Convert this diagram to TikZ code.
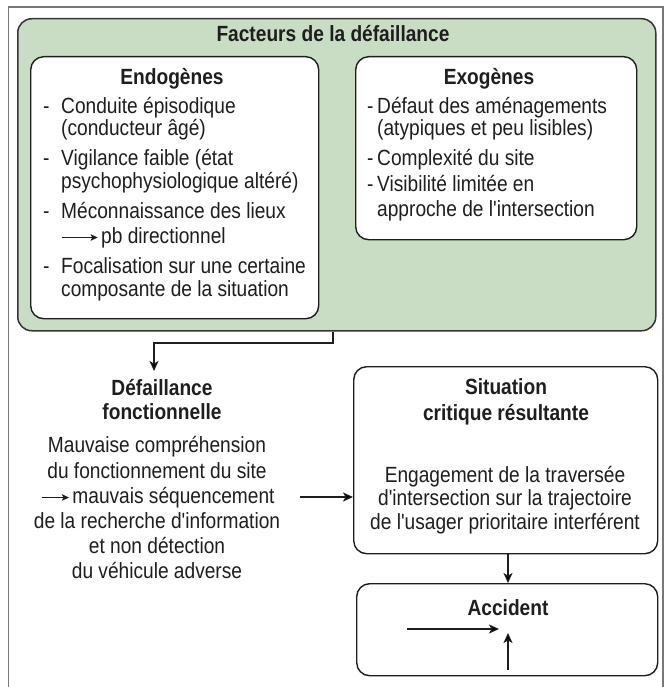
\documentclass[tikz,border=0pt]{standalone}
\usepackage{fontspec}
\setmainfont{Liberation Sans}[Ligatures=TeXOff, FakeStretch=0.87]
\usetikzlibrary{arrows.meta}
\definecolor{greenbg}{RGB}{201,221,196}
\definecolor{framegray}{RGB}{120,120,120}
\definecolor{ink}{RGB}{30,30,30}
\newcommand{\inarrow}[1]{\tikz[baseline=0pt]\draw[ink,line width=1pt,-{Stealth[length=7pt,width=6.5pt,inset=1.5pt]}] (0pt,5.5pt) -- (#1,5.5pt);}
\newcommand{\dashA}{\makebox[18pt][l]{-}}
\newcommand{\dashB}{\makebox[10pt][l]{-}}
\tikzset{
  txt/.style={inner sep=0pt, text=ink, font=\fontsize{22}{24}\selectfont},
  ttl/.style={inner sep=0pt, text=ink, font=\fontsize{22}{24}\selectfont\bfseries},
  greenbox/.style={draw=ink!90, fill=greenbg, line width=1.5pt, rounded corners=14pt, inner sep=0pt},
  whitebox/.style={draw=ink, fill=white, line width=1.4pt, rounded corners=13pt, inner sep=0pt},
  conn/.style={draw=ink, line width=1.1pt, -{Stealth[length=10pt,width=9pt,inset=2.5pt]}},
}
\begin{document}
\begin{tikzpicture}[x=1pt,y=-1pt]
\useasboundingbox (0,0) rectangle (668,687);
% outer frame (open at the bottom)
\draw[framegray, line width=1.2pt] (8.5,687) -- (8.5,7) -- (663,7) -- (663,687);

% green group
\node[greenbox, anchor=north west, minimum width=638pt, minimum height=312pt] (facteurs) at (17,18) {};
\node[ttl, anchor=base] (ftitle) at (333,42) {Facteurs de la défaillance};

% Endogènes
\node[whitebox, anchor=north west, minimum width=288pt, minimum height=262pt] (endo) at (30,56) {};
\node[ttl, anchor=base] (entitle) at (172,85) {Endogènes};
\node[txt, anchor=base west] (e1) at (43,113.5) {\dashA Conduite épisodique};
\node[txt, anchor=base west] (e2) at (61,135.5) {(conducteur âgé)};
\node[txt, anchor=base west] (e3) at (43,165.5) {\dashA Vigilance faible (état};
\node[txt, anchor=base west] (e4) at (61,188.5) {psychophysiologique altéré)};
\node[txt, anchor=base west] (e5) at (43,218.5) {\dashA Méconnaissance des lieux};
\node[txt, anchor=base west] (e6) at (61,243) {\inarrow{36pt}\hspace{3pt}pb directionnel};
\node[txt, anchor=base west] (e7) at (43,273) {\dashA Focalisation sur une certaine};
\node[txt, anchor=base west] (e8) at (61,296) {composante de la situation};

% Exogènes
\node[whitebox, anchor=north west, minimum width=281pt, minimum height=183pt] (exo) at (355,56) {};
\node[ttl, anchor=base] (extitle) at (489,85) {Exogènes};
\node[txt, anchor=base west] (x1) at (367,113.5) {\dashB Défaut des aménagements};
\node[txt, anchor=base west] (x2) at (377,135.5) {(atypiques et peu lisibles)};
\node[txt, anchor=base west] (x3) at (367,166) {\dashB Complexité du site};
\node[txt, anchor=base west] (x4) at (367,191) {\dashB Visibilité limitée en};
\node[txt, anchor=base west] (x5) at (377,216) {approche de l'intersection};

% Défaillance fonctionnelle
\node[ttl, anchor=base] (dtitle1) at (162,395) {Défaillance};
\node[ttl, anchor=base] (dtitle2) at (162,419) {fonctionnelle};
\node[txt, anchor=base] (d1) at (157,452) {Mauvaise compréhension};
\node[txt, anchor=base] (d2) at (157,478) {du fonctionnement du site};
\node[txt, anchor=base] (d3) at (158,503) {\inarrow{27pt}\hspace{3pt}mauvais séquencement};
\node[txt, anchor=base] (d4) at (157,528) {de la recherche d'information};
\node[txt, anchor=base] (d5) at (157,553) {et non détection};
\node[txt, anchor=base] (d6) at (157,578) {du véhicule adverse};

% Situation critique résultante
\node[whitebox, anchor=north west, minimum width=304pt, minimum height=187pt] (sit) at (353,366) {};
\node[ttl, anchor=base] (stitle1) at (506,394) {Situation};
\node[ttl, anchor=base] (stitle2) at (506,420) {critique résultante};
\node[txt, anchor=base] (s1) at (505,482) {Engagement de la traversée};
\node[txt, anchor=base] (s2) at (505,505) {d'intersection sur la trajectoire};
\node[txt, anchor=base] (s3) at (505,529) {de l'usager prioritaire interférent};

% Accident
\node[whitebox, anchor=north west, minimum width=301pt, minimum height=92pt] (acc) at (356,583) {};
\node[ttl, anchor=base] (atitle) at (508,615) {Accident};

% connectors
\coordinate (fbend) at (333,343);
\coordinate (dbend) at (154,343);
\coordinate (dtip) at (154,371);
\draw[conn] (facteurs.south -| fbend) -- (fbend) -- (dbend) -- (dtip);

\coordinate (dsrc) at (300,497);
\draw[conn] (dsrc) -- (dsrc -| sit.west);

\coordinate (sa) at (508,0);
\draw[conn] (sit.south -| sa) -- (acc.north -| sa);

% two converging trajectories inside the accident box
\coordinate (h1) at (407,629);
\coordinate (h2) at (499,629);
\coordinate (v1) at (508,670);
\coordinate (v2) at (508,633);
\draw[conn] (h1) -- (h2);
\draw[conn] (v1) -- (v2);
\end{tikzpicture}
\end{document}
